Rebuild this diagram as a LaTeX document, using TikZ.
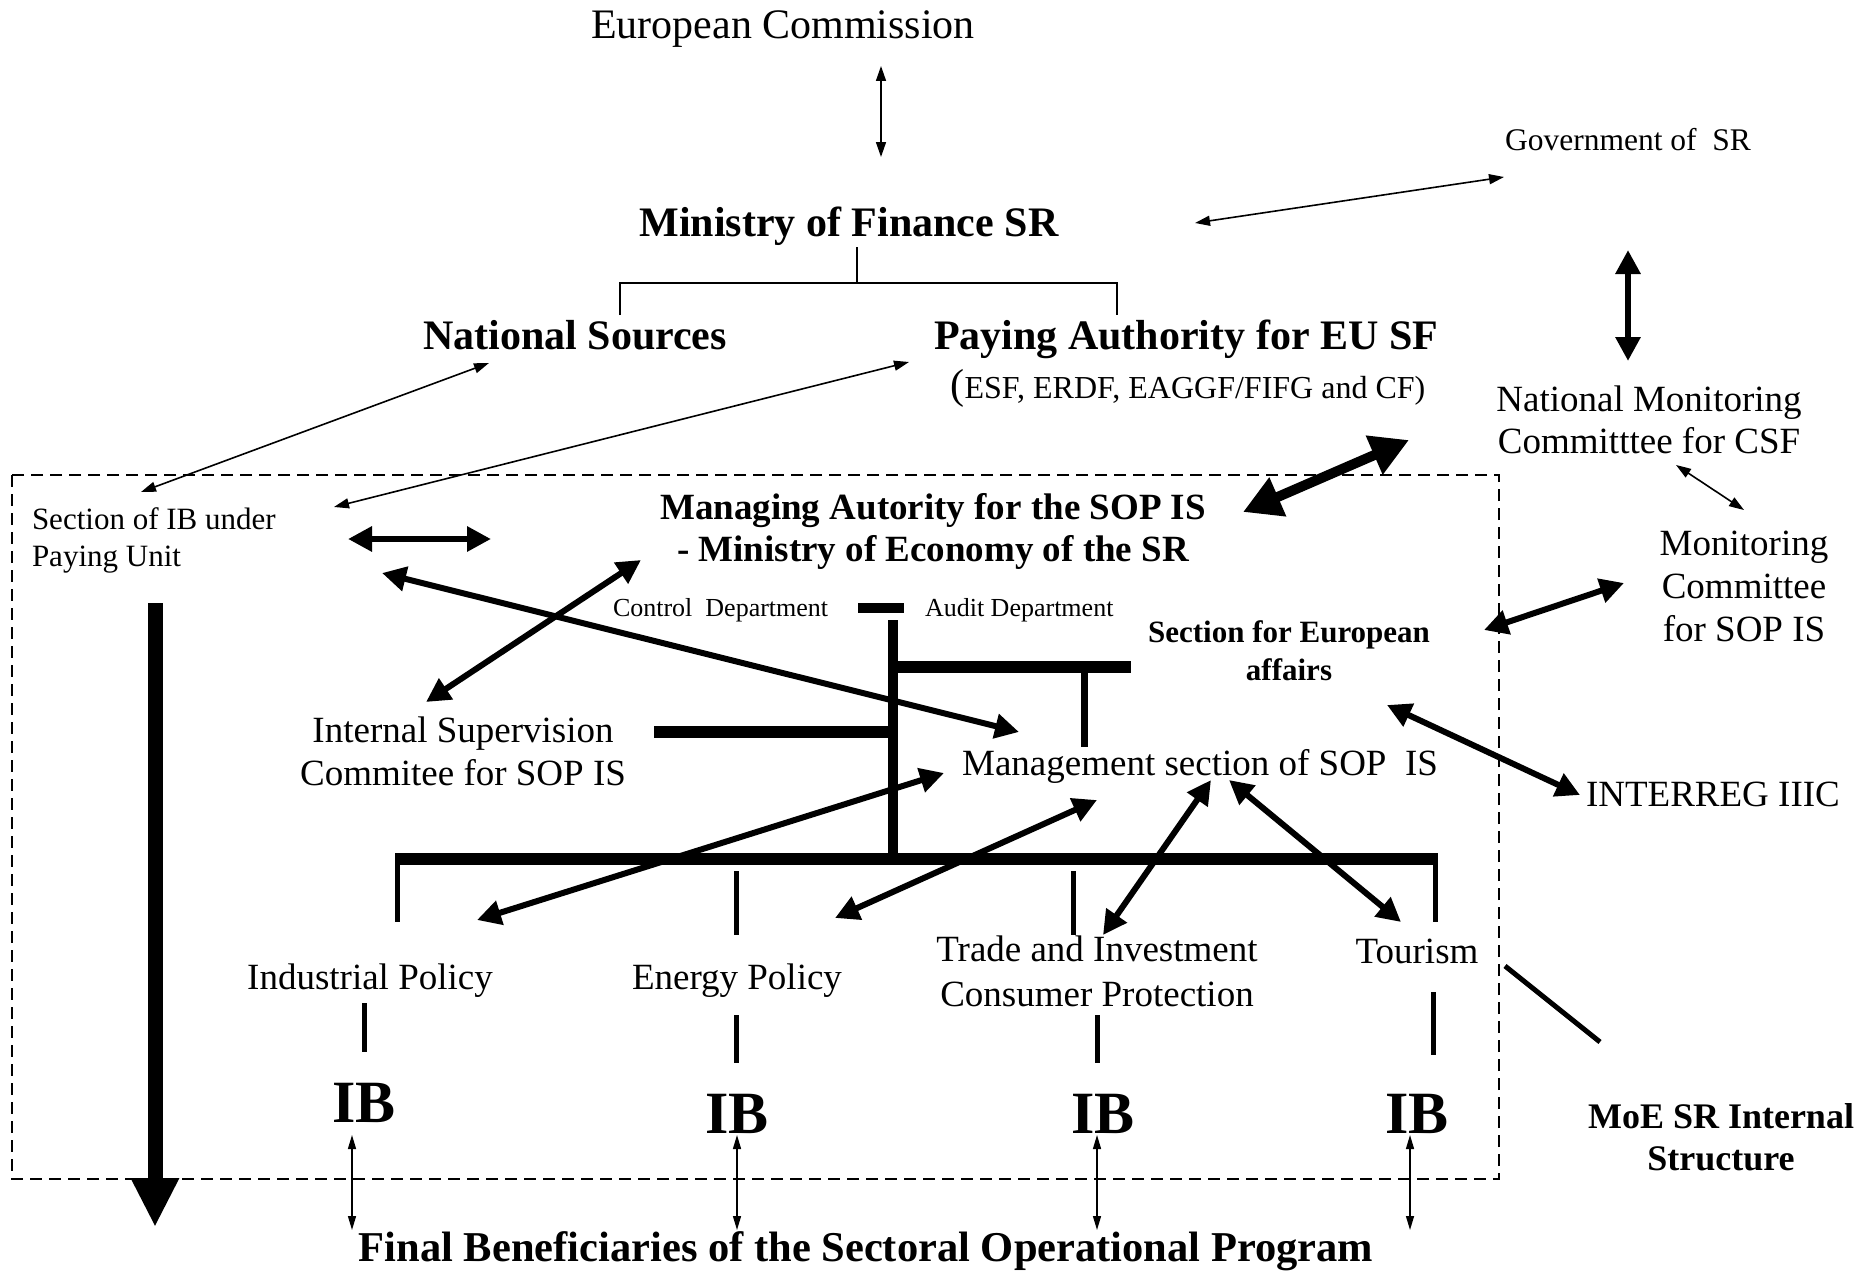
\documentclass[tikz,border=0pt]{standalone}
\usepackage{fontspec}
\setmainfont{Liberation Serif}
\usetikzlibrary{arrows.meta}
\begin{document}
\begin{tikzpicture}[x=1pt,y=-1pt,
  every node/.style={inner sep=0pt,outer sep=0pt},
  lbl/.style={anchor=base,font=\fontsize{37}{43}\selectfont},
  lblw/.style={anchor=base west,font=\fontsize{37}{43}\selectfont},
  big/.style={anchor=base,font=\fontsize{42}{48}\selectfont},
  bigb/.style={anchor=base,font=\bfseries\fontsize{42}{48}\selectfont},
  midb/.style={anchor=base,font=\bfseries\fontsize{37}{43}\selectfont},
  sml/.style={anchor=base,font=\fontsize{31}{36}\selectfont},
  smlw/.style={anchor=base west,font=\fontsize{31}{36}\selectfont},
  tiny/.style={anchor=base west,font=\fontsize{26}{30}\selectfont},
  ibs/.style={anchor=base,font=\bfseries\fontsize{60}{66}\selectfont},
  thinarr/.style={line width=1.6pt,{Triangle[length=15pt,width=10pt]}-{Triangle[length=15pt,width=10pt]}},
  ibarr/.style={line width=1.4pt,{Triangle[length=14pt,width=8pt]}-{Triangle[length=14pt,width=8pt]}},
  thickarr/.style={line width=6pt,{Triangle[length=24pt,width=24pt]}-{Triangle[length=24pt,width=24pt]}},
  hugearr/.style={line width=10pt,{Triangle[length=38pt,width=40pt]}-{Triangle[length=38pt,width=40pt]}},
  orgline/.style={line width=12pt},
  stub/.style={line width=5pt},
  box/.style={dash pattern=on 12pt off 7pt,line width=1.6pt}
]
\useasboundingbox (0,0) rectangle (1870,1271);

% dashed frame
\draw[box] (12,475) rectangle (1499,1179);

% texts
\node[big] (ec) at (783,39) {European Commission};
\node[sml,font=\fontsize{31.5}{36}\selectfont] (gov) at (1628,150) {Government of\ \ SR};
\node[bigb] (mof) at (849,236) {Ministry of Finance SR};
\node[bigb] (ns) at (575,349) {National Sources};
\node[bigb] (pa) at (1186,349) {Paying Authority for EU SF};
\node[anchor=base,font=\fontsize{32}{38}\selectfont] (pasub) at (1188,398) {{\fontsize{42}{48}\selectfont (}ESF, ERDF, EAGGF/FIFG and CF)};
\node[lbl] (nmc1) at (1649,411) {National Monitoring};
\node[lbl] (nmc2) at (1649,453) {Committtee for CSF};
\node[smlw] (sib1) at (32,529) {Section of IB under};
\node[smlw] (sib2) at (32,566) {Paying Unit};
\node[midb] (ma1) at (933,519) {Managing Autority for the SOP IS};
\node[midb] (ma2) at (933,561) {- Ministry of Economy of the SR};
\node[tiny] (ctrl) at (613,616) {Control\ \ Department};
\node[tiny] (audit) at (925,616) {Audit Department};
\node[anchor=base,font=\bfseries\fontsize{31}{36}\selectfont] (sea1) at (1289,642) {Section for European};
\node[anchor=base,font=\bfseries\fontsize{31}{36}\selectfont] (sea2) at (1289,680) {affairs};
\node[lbl] (mc1) at (1744,555) {Monitoring};
\node[lbl] (mc2) at (1744,598) {Committee};
\node[lbl] (mc3) at (1744,641) {for SOP IS};
\node[lbl] (isc1) at (463,742) {Internal Supervision};
\node[lbl] (isc2) at (463,785) {Commitee for SOP IS};
\node[lbl] (ms) at (1200,775) {Management section of SOP\ \ IS};
\node[lblw] (interreg) at (1586,806) {INTERREG IIIC};
\node[lbl] (ip) at (370,989) {Industrial Policy};
\node[lbl] (ep) at (737,989) {Energy Policy};
\node[lbl] (ti1) at (1097,961) {Trade and Investment};
\node[lbl] (ti2) at (1097,1006) {Consumer Protection};
\node[lbl] (tour) at (1417,963) {Tourism};
\node[ibs] (ib1) at (364,1122) {IB};
\node[ibs] (ib2) at (737,1133) {IB};
\node[ibs] (ib3) at (1103,1133) {IB};
\node[ibs] (ib4) at (1417,1133) {IB};
\node[anchor=base,font=\bfseries\fontsize{36}{40}\selectfont] (moe1) at (1721,1128) {MoE SR Internal};
\node[anchor=base,font=\bfseries\fontsize{36}{40}\selectfont] (moe2) at (1721,1170) {Structure};
\node[anchor=base,font=\bfseries\fontsize{42.5}{48}\selectfont] (fb) at (866,1261) {Final Beneficiaries of the Sectoral Operational Program};

% bracket under Ministry of Finance
\coordinate (brTop) at (857,247);
\coordinate (brMid) at (857,283);
\coordinate (brL) at (620,283);
\coordinate (brR) at (1117,283);
\coordinate (brLd) at (620,315);
\coordinate (brRd) at (1117,315);
\draw[line width=2pt] (brTop) -- (brMid);
\draw[line width=2pt] (brLd) -- (brL) -- (brR) -- (brRd);

% organisation lines
\coordinate (cbL) at (858,608); \coordinate (cbR) at (904,608);
\draw[line width=10pt] (cbL) -- (cbR);
\coordinate (vTop) at (893,620); \coordinate (vBot) at (893,864);
\draw[line width=10pt] (vTop) -- (vBot);
\coordinate (rhL) at (888,667); \coordinate (rhR) at (1131,667);
\draw[orgline] (rhL) -- (rhR);
\coordinate (rdT) at (1084,667); \coordinate (rdB) at (1084,747);
\draw[line width=7pt] (rdT) -- (rdB);
\coordinate (lhL) at (654,732); \coordinate (lhR) at (898,732);
\draw[orgline] (lhL) -- (lhR);
\coordinate (barL) at (395,859); \coordinate (barR) at (1437,859);
\draw[orgline] (barL) -- (barR);
\coordinate (d1t) at (397,853); \coordinate (d1b) at (397,922);
\coordinate (d2t) at (736,871); \coordinate (d2b) at (736,935);
\coordinate (d3t) at (1073,871); \coordinate (d3b) at (1073,935);
\coordinate (d4t) at (1435,853); \coordinate (d4b) at (1435,922);
\draw[stub] (d1t) -- (d1b);
\draw[stub] (d2t) -- (d2b);
\draw[stub] (d3t) -- (d3b);
\draw[stub] (d4t) -- (d4b);
\coordinate (e1t) at (364,1003); \coordinate (e1b) at (364,1052);
\coordinate (e2t) at (736,1015); \coordinate (e2b) at (736,1063);
\coordinate (e3t) at (1097,1015); \coordinate (e3b) at (1097,1063);
\coordinate (e4t) at (1433,992); \coordinate (e4b) at (1433,1055);
\draw[stub] (e1t) -- (e1b);
\draw[stub] (e2t) -- (e2b);
\draw[stub] (e3t) -- (e3b);
\draw[stub] (e4t) -- (e4b);
\coordinate (tmA) at (1505,966); \coordinate (tmB) at (1600,1042);
\draw[stub] (tmA) -- (tmB);

% thin arrows
\coordinate (ecS) at (881,66); \coordinate (mofN) at (881,157);
\draw[thinarr] (ecS) -- (mofN);
\coordinate (mofE) at (1195,223); \coordinate (govW) at (1504,177);
\draw[thinarr] (mofE) -- (govW);
\coordinate (sibA) at (141,492); \coordinate (nsS) at (489,363);
\draw[thinarr] (sibA) -- (nsS);
\coordinate (sibB) at (334,507); \coordinate (paS) at (909,362);
\draw[thinarr] (sibB) -- (paS);
\coordinate (nmcS) at (1676,465); \coordinate (mcN) at (1744,510);
\draw[thinarr] (nmcS) -- (mcN);

% thick arrows
\coordinate (govS) at (1628,250); \coordinate (nmcN) at (1628,361);
\draw[thickarr] (govS) -- (nmcN);
\coordinate (paSE) at (1409,440); \coordinate (maE) at (1243,512);
\draw[hugearr] (paSE) -- (maE);
\coordinate (sibE) at (348,539); \coordinate (maW) at (491,539);
\draw[thickarr] (sibE) -- (maW);
\coordinate (sibC) at (382,573); \coordinate (msW) at (1019,732);
\draw[thickarr] (sibC) -- (msW);
\coordinate (iscN) at (426,702); \coordinate (maSW) at (641,560);
\draw[thickarr] (iscN) -- (maSW);
\coordinate (seaE) at (1484,630); \coordinate (mcW) at (1624,583);
\draw[thickarr] (seaE) -- (mcW);
\coordinate (seaS) at (1387,705); \coordinate (intW) at (1580,795);
\draw[thickarr] (seaS) -- (intW);
\coordinate (msA) at (944,773); \coordinate (ipN) at (477,920);
\draw[thickarr] (msA) -- (ipN);
\coordinate (msB) at (1097,800); \coordinate (epN) at (835,918);
\draw[thickarr] (msB) -- (epN);
\coordinate (msC) at (1211,780); \coordinate (tiN) at (1103,935);
\draw[thickarr] (msC) -- (tiN);
\coordinate (msD) at (1229,780); \coordinate (tourN) at (1401,922);
\draw[thickarr] (msD) -- (tourN);

% big down arrow
\coordinate (downT) at (155,603); \coordinate (downB) at (155,1227);
\draw[line width=15pt,-{Triangle[length=49pt,width=45pt]}] (downT) -- (downB);

% IB to final beneficiaries
\coordinate (f1t) at (352,1135); \coordinate (f1b) at (352,1230);
\coordinate (f2t) at (737,1135); \coordinate (f2b) at (737,1230);
\coordinate (f3t) at (1097,1135); \coordinate (f3b) at (1097,1230);
\coordinate (f4t) at (1410,1135); \coordinate (f4b) at (1410,1230);
\draw[ibarr] (f1t) -- (f1b);
\draw[ibarr] (f2t) -- (f2b);
\draw[ibarr] (f3t) -- (f3b);
\draw[ibarr] (f4t) -- (f4b);
\end{tikzpicture}
\end{document}
